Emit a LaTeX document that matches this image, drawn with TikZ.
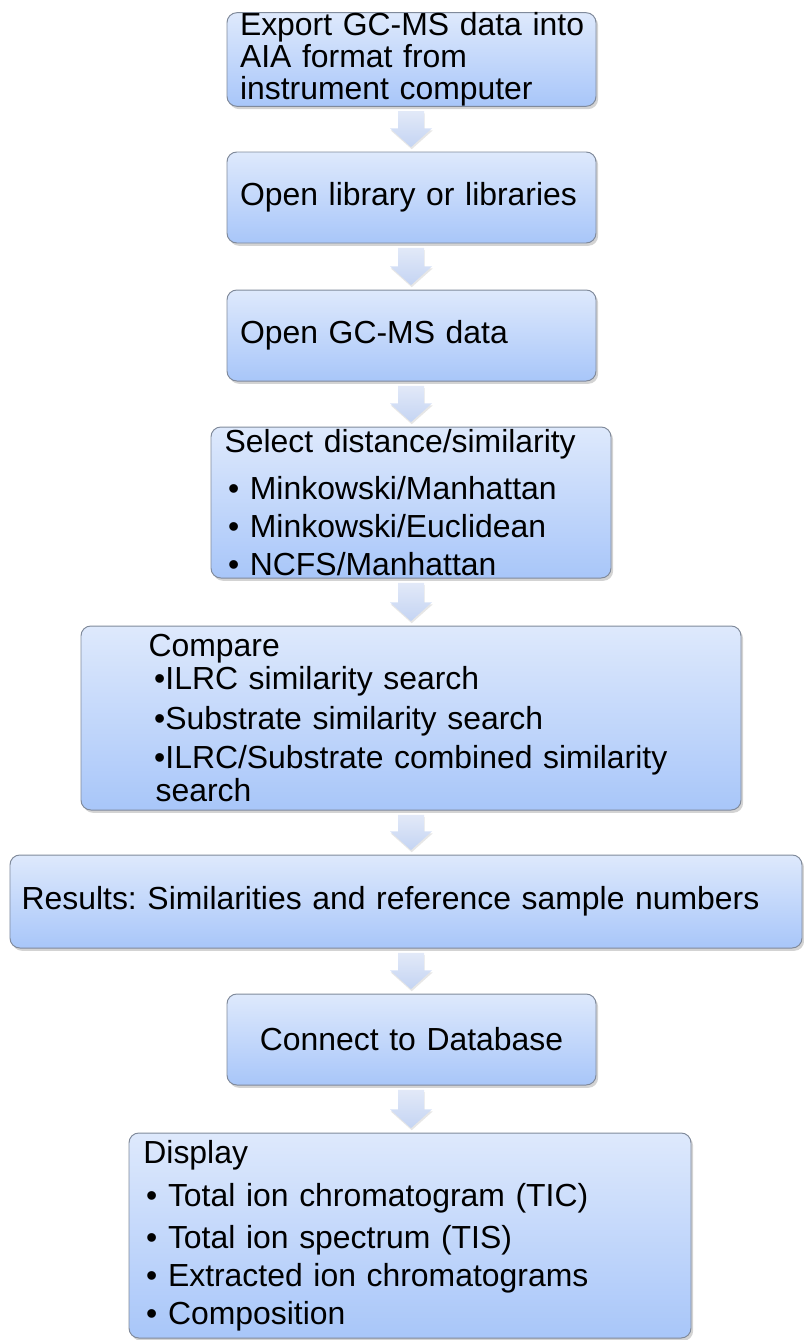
\documentclass[tikz,border=0pt]{standalone}
\usepackage{fontspec}
\setmainfont{Liberation Sans}
\frenchspacing
\usetikzlibrary{shapes, arrows.meta, positioning, calc, shadows}
\definecolor{boxtop}{RGB}{222,233,252}
\definecolor{boxbot}{RGB}{168,198,249}
\definecolor{boxline}{RGB}{128,138,155}
\definecolor{arrtop}{RGB}{226,233,248}
\definecolor{arrbot}{RGB}{196,212,243}
\tikzstyle{process} = [rectangle, rounded corners=7pt, draw=boxline, line width=0.7pt, top color=boxtop, bottom color=boxbot, drop shadow={shadow xshift=1.5pt, shadow yshift=-2pt, opacity=0.35}, font=\fontsize{22.7pt}{22.7pt}\selectfont, align=left, inner ysep=0pt]
\tikzstyle{flow} = [top color=arrtop, bottom color=arrbot, drop shadow={shadow xshift=0.5pt, shadow yshift=-1.5pt, opacity=0.2}]
\newcommand{\blockarrow}[2]{%
  \path[flow] let \p1=(#1.south), \p2=(#2.north), \p3=(spine) in
    (\x3-0.325cm,\y1-0.11cm) -- (\x3+0.325cm,\y1-0.11cm) -- (\x3+0.325cm,\y2+0.58cm)
    -- (\x3+0.525cm,\y2+0.58cm) -- (\x3,\y2+0.11cm) -- (\x3-0.525cm,\y2+0.58cm)
    -- (\x3-0.325cm,\y2+0.58cm) -- cycle;}

\begin{document}
\begin{tikzpicture}
  \useasboundingbox (0,0) rectangle (20.1,-33.5);
  \coordinate (spine) at (10.275,0);

  % input
  \node[process, minimum width=9.225cm, minimum height=2.275cm, text width=8.575cm, inner xsep=0.325cm] (Export) at (10.2875,-1.4875) {\mbox{Export GC-MS data into}\\AIA format from\\instrument computer};
  \node[process, minimum width=9.225cm, minimum height=2.275cm, text width=8.575cm, inner xsep=0.325cm] (Lib) at (10.2875,-4.9375) {Open library or libraries};
  \node[process, minimum width=9.225cm, minimum height=2.275cm, text width=8.575cm, inner xsep=0.325cm] (Data) at (10.2875,-8.3875) {Open GC-MS data};

  % search
  \node[process, minimum width=10cm, minimum height=3.775cm, text width=9.32cm, inner xsep=0.34cm] (Dist) at (10.275,-12.5625) {Select distance/similarity\\[10.7pt]
    \hspace*{2.5pt}• Minkowski/Manhattan\\[4.3pt]
    \hspace*{2.5pt}• Minkowski/Euclidean\\[4.3pt]
    \hspace*{2.5pt}• NCFS/Manhattan};
  \node[process, minimum width=16.5cm, minimum height=4.6cm, text width=13.12cm, inner xsep=1.69cm] (Comp) at (10.275,-17.95) {Compare\\[0.8pt]
    \hspace*{4pt}•ILRC similarity search\\[5.8pt]
    \hspace*{4pt}•Substrate similarity search\\[5pt]
    \hspace*{4pt}\mbox{•ILRC/Substrate combined similarity}\\[0.8pt]
    \hspace*{5pt}search};
  \node[process, minimum width=19.8cm, minimum height=2.325cm, text width=19.22cm, inner xsep=0.29cm] (Res) at (10.15,-22.5375) {\mbox{Results: Similarities and reference sample numbers}};

  % output
  \node[process, minimum width=9.225cm, minimum height=2.275cm, text width=8.575cm, inner xsep=0.325cm, align=center] (DB) at (10.2875,-25.9875) {Connect to Database};
  \node[process, minimum width=14.05cm, minimum height=5.125cm, text width=13.33cm, inner xsep=0.36cm] (Disp) at (10.25,-30.8875) {Display\\[7.9pt]
    \hspace*{2pt}• Total ion chromatogram (TIC)\\[7.2pt]
    \hspace*{2pt}• Total ion spectrum (TIS)\\[4.3pt]
    \hspace*{2pt}• Extracted ion chromatograms\\[4.3pt]
    \hspace*{2pt}• Composition};

  % arrows
  \blockarrow{Export}{Lib}
  \blockarrow{Lib}{Data}
  \blockarrow{Data}{Dist}
  \blockarrow{Dist}{Comp}
  \blockarrow{Comp}{Res}
  \blockarrow{Res}{DB}
  \blockarrow{DB}{Disp}
\end{tikzpicture}
\end{document}
